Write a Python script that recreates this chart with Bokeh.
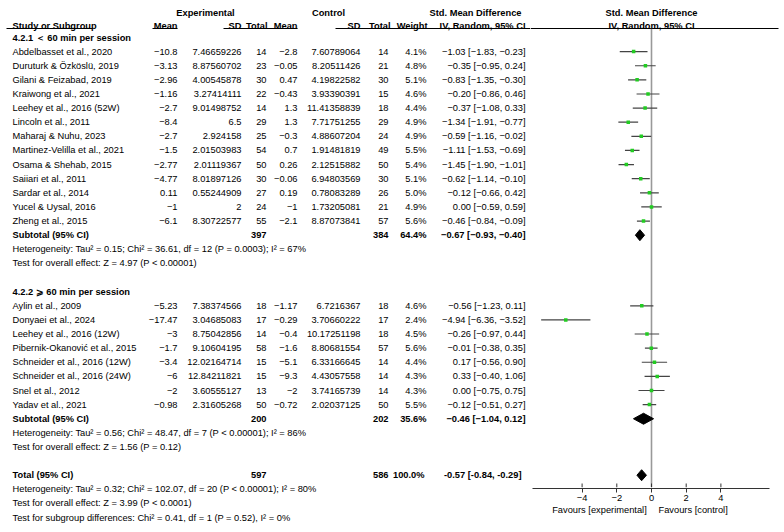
from bokeh.plotting import figure
from bokeh.models import Range1d, LinearAxis, FixedTicker, ColumnDataSource
from bokeh.layouts import row, column
from bokeh.embed import file_html
from bokeh.resources import INLINE
from bokeh.core.properties import value

# ---------------- data ----------------
heading1 = "4.2.1 ＜ 60 min per session"
studies1 = ["Abdelbasset et al., 2020", "Duruturk & Özköslü, 2019", "Gilani & Feizabad, 2019",
            "Kraiwong et al., 2021", "Leehey et al., 2016 (52W)", "Lincoln et al., 2011",
            "Maharaj & Nuhu, 2023", "Martinez-Velilla et al., 2021", "Osama & Shehab, 2015",
            "Saiiari et al., 2011", "Sardar et al., 2014", "Yucel & Uysal, 2016", "Zheng et al., 2015"]
exp_mean1 = [-10.8, -3.13, -2.96, -1.16, -2.7, -8.4, -2.7, -1.5, -2.77, -4.77, 0.11, -1, -6.1]
exp_sd1 = [7.46659226, 8.87560702, 4.00545878, 3.27414111, 9.01498752, 6.5, 2.924158,
           2.01503983, 2.01119367, 8.01897126, 0.55244909, 2, 8.30722577]
exp_n1 = [14, 23, 30, 22, 14, 29, 25, 54, 50, 30, 27, 24, 55]
ctl_mean1 = [-2.8, -0.05, 0.47, -0.43, 1.3, 1.3, -0.3, 0.7, 0.26, -0.06, 0.19, -1, -2.1]
ctl_sd1 = [7.60789064, 8.20511426, 4.19822582, 3.93390391, 11.41358839, 7.71751255, 4.88607204,
           1.91481819, 2.12515882, 6.94803569, 0.78083289, 1.73205081, 8.87073841]
ctl_n1 = [14, 21, 30, 15, 18, 29, 24, 49, 50, 30, 26, 21, 57]
weight1 = [4.1, 4.8, 5.1, 4.6, 4.4, 4.9, 4.9, 5.5, 5.4, 5.1, 5.0, 4.9, 5.6]
smd1 = [-1.03, -0.35, -0.83, -0.20, -0.37, -1.34, -0.59, -1.11, -1.45, -0.62, -0.12, 0.00, -0.46]
lo1 = [-1.83, -0.95, -1.35, -0.86, -1.08, -1.91, -1.16, -1.53, -1.90, -1.14, -0.66, -0.59, -0.84]
hi1 = [-0.23, 0.24, -0.30, 0.46, 0.33, -0.77, -0.02, -0.69, -1.01, -0.10, 0.42, 0.59, -0.09]

heading2 = "4.2.2 ⩾ 60 min per session"
studies2 = ["Aylin et al., 2009", "Donyaei et al., 2024", "Leehey et al., 2016 (12W)",
            "Pibernik-Okanović et al., 2015", "Schneider et al., 2016 (12W)",
            "Schneider et al., 2016 (24W)", "Snel et al., 2012", "Yadav et al., 2021"]
exp_mean2 = [-5.23, -17.47, -3, -1.7, -3.4, -6, -2, -0.98]
exp_sd2 = [7.38374566, 3.04685083, 8.75042856, 9.10604195, 12.02164714, 12.84211821, 3.60555127, 2.31605268]
exp_n2 = [18, 17, 14, 58, 15, 15, 13, 50]
ctl_mean2 = [-1.17, -0.29, -0.4, -1.6, -5.1, -9.3, -2, -0.72]
ctl_sd2 = [6.7216367, 3.70660222, 10.17251198, 8.80681554, 6.33166645, 4.43057558, 3.74165739, 2.02037125]
ctl_n2 = [18, 17, 18, 57, 14, 14, 14, 50]
weight2 = [4.6, 2.4, 4.5, 5.6, 4.4, 4.3, 4.3, 5.5]
smd2 = [-0.56, -4.94, -0.26, -0.01, 0.17, 0.33, 0.00, -0.12]
lo2 = [-1.23, -6.36, -0.97, -0.38, -0.56, -0.40, -0.75, -0.51]
hi2 = [0.11, -3.52, 0.44, 0.35, 0.90, 1.06, 0.75, 0.27]

sub_n_exp = [397, 200]
sub_n_ctl = [384, 202]
sub_weight = [64.4, 35.6]
sub_smd = [-0.67, -0.46]
sub_lo = [-0.93, -1.04]
sub_hi = [-0.40, 0.12]
sub_het = ["Heterogeneity: Tau² = 0.15; Chi² = 36.61, df = 12 (P = 0.0003); I² = 67%",
           "Heterogeneity: Tau² = 0.56; Chi² = 48.47, df = 7 (P < 0.00001); I² = 86%"]
sub_test = ["Test for overall effect: Z = 4.97 (P < 0.00001)",
            "Test for overall effect: Z = 1.56 (P = 0.12)"]

tot_n_exp = 597
tot_n_ctl = 586
tot_weight = 100.0
tot_smd = -0.57
tot_lo = -0.84
tot_hi = -0.29
tot_notes = ["Heterogeneity: Tau² = 0.32; Chi² = 102.07, df = 20 (P < 0.00001); I² = 80%",
             "Test for overall effect: Z = 3.99 (P < 0.0001)",
             "Test for subgroup differences: Chi² = 0.41, df = 1 (P = 0.52), I² = 0%"]

axis_ticks = [-4, -2, 0, 2, 4]
fav_ticks = [-3, 2.4]
fav_labels = ["Favours [experimental]", "Favours [control]"]

# ---------------- layout constants ----------------
FONT = "Liberation Sans"
FS = "9.3px"
W, H = 784, 532
SPLIT = 530          # pixel where the forest panel starts
ZERO_PX = 651.0      # pixel of SMD = 0
PX_PER = 17.35       # pixels per SMD unit
AXIS_Y = 487
ROW0, ROWSTEP = 37.0, 14.12


def rowy(i):
    return ROW0 + ROWSTEP * i


def smd_at(px):
    return (px - ZERO_PX) / PX_PER


def num(v):
    return str(v).replace("-", "−")


def ci(e, l, h, minus="−"):
    return f"{e:.2f} [{l:.2f}, {h:.2f}]".replace("-", minus)


# ---------------- build rows ----------------
texts = {}   # key (align, bold) -> dict lists


def put(x, y, t, align="left", bold=False):
    d = texts.setdefault((align, bold), {"x": [], "y": [], "text": []})
    d["x"].append(x)
    d["y"].append(y)
    d["text"].append(t)


COL_NAME = 12
COL_EM, COL_ESD, COL_EN = 177, 241, 266
COL_CM, COL_CSD, COL_CN = 297, 360, 388
COL_W, COL_CI = 426, 525

forest_rows = []   # (y, smd, lo, hi)
diamonds = []      # (y, smd, lo, hi)

groups = [
    (heading1, studies1, exp_mean1, exp_sd1, exp_n1, ctl_mean1, ctl_sd1, ctl_n1, weight1, smd1, lo1, hi1),
    (heading2, studies2, exp_mean2, exp_sd2, exp_n2, ctl_mean2, ctl_sd2, ctl_n2, weight2, smd2, lo2, hi2),
]
i = 0
for g, (head, st, em, esd, en, cm, csd, cn, w, e, l, h) in enumerate(groups):
    put(COL_NAME, rowy(i), head, bold=True)
    i += 1
    for k in range(len(st)):
        y = rowy(i)
        put(COL_NAME, y, st[k])
        put(COL_EM, y, num(em[k]), "right")
        put(COL_ESD, y, num(esd[k]), "right")
        put(COL_EN, y, str(en[k]), "right")
        put(COL_CM, y, num(cm[k]), "right")
        put(COL_CSD, y, num(csd[k]), "right")
        put(COL_CN, y, str(cn[k]), "right")
        put(COL_W, y, f"{w[k]:.1f}%", "right")
        put(COL_CI, y, ci(e[k], l[k], h[k]), "right")
        forest_rows.append((y, e[k], l[k], h[k]))
        i += 1
    y = rowy(i)
    put(COL_NAME, y, "Subtotal (95% CI)", bold=True)
    put(COL_EN, y, str(sub_n_exp[g]), "right", True)
    put(COL_CN, y, str(sub_n_ctl[g]), "right", True)
    put(COL_W, y, f"{sub_weight[g]:.1f}%", "right", True)
    put(COL_CI, y, ci(sub_smd[g], sub_lo[g], sub_hi[g]), "right", True)
    diamonds.append((y, sub_smd[g], sub_lo[g], sub_hi[g]))
    i += 1
    put(COL_NAME, rowy(i), sub_het[g])
    i += 1
    put(COL_NAME, rowy(i), sub_test[g])
    i += 2

y = rowy(i)
put(COL_NAME, y, "Total (95% CI)", bold=True)
put(COL_EN, y, str(tot_n_exp), "right", True)
put(COL_CN, y, str(tot_n_ctl), "right", True)
put(COL_W - 2, y, f"{tot_weight:.1f}%", "right", True)
put(COL_CI - 4, y, ci(tot_smd, tot_lo, tot_hi, "-"), "right", True)
diamonds.append((y, tot_smd, tot_lo, tot_hi))
i += 1
for note in tot_notes:
    put(COL_NAME, rowy(i), note)
    i += 1

# headers
HY1, HY2, ULY = 12, 25, 28
put(205, HY1, "Experimental", "center", True)
put(328, HY1, "Control", "center", True)
put(475, HY1, "Std. Mean Difference", "center", True)
put(COL_NAME, HY2, "Study or Subgroup", "left", True)
for x, t in [(COL_EM, "Mean"), (241, "SD"), (267, "Total"), (COL_CM, "Mean"), (COL_CSD, "SD"),
             (390, "Total"), (427, "Weight"), (COL_CI, "IV, Random, 95% CI")]:
    put(x, HY2, t, "right", True)

# ---------------- left (table) figure ----------------
left = figure(width=SPLIT, height=H, x_range=Range1d(0, SPLIT), y_range=Range1d(H, 0),
              x_axis_type=None, y_axis_type=None, toolbar_location=None,
              output_backend="svg", min_border=0, outline_line_color=None)
for (align, bold), d in texts.items():
    left.text(x="x", y="y", text="text", source=ColumnDataSource(d),
              text_align=align, text_baseline="middle",
              text_font=value(FONT), text_font_size=value(FS),
              text_font_style="bold" if bold else "normal", text_color="black")
ul = [(6, 92), (152, 177), (223, 297), (335, SPLIT)]
left.segment(x0=[a for a, b in ul], y0=[ULY] * len(ul), x1=[b for a, b in ul], y1=[ULY] * len(ul),
             line_color="black", line_width=1)

# ---------------- right (forest) figure ----------------
xr = Range1d(smd_at(SPLIT), smd_at(W))
right = figure(width=W - SPLIT, height=AXIS_Y, x_range=xr, y_range=Range1d(AXIS_Y, 0),
               x_axis_type=None, y_axis_type=None, toolbar_location=None,
               output_backend="svg", min_border=0, outline_line_color=None)

right.segment(x0=[smd_at(SPLIT)], y0=[ULY], x1=[smd_at(778)], y1=[ULY], line_color="black", line_width=1)
right.segment(x0=[0], y0=[ULY], x1=[0], y1=[AXIS_Y], line_color="#999999", line_width=1.6)

fr = ColumnDataSource(dict(y=[r[0] for r in forest_rows], e=[r[1] for r in forest_rows],
                           lo=[r[2] for r in forest_rows], hi=[r[3] for r in forest_rows]))
right.segment(x0="lo", y0="y", x1="hi", y1="y", source=fr, line_color="#444444", line_width=1.2)
right.scatter(x="e", y="y", source=fr, marker="square", size=3.5, fill_color="#22cc22",
              line_color=None)

right.patches(xs=[[lo, e, hi, e] for (y, e, lo, hi) in diamonds],
              ys=[[y, y - 5.5, y, y + 5.5] for (y, e, lo, hi) in diamonds],
              fill_color="black", line_color="black", line_width=1)

right.text(x=[0, 0], y=[HY1, HY2], text=["Std. Mean Difference", "IV, Random, 95% CI"],
           text_align="center", text_baseline="middle", text_font=value(FONT),
           text_font_size=value(FS), text_font_style="bold", text_color="black")

# ---------------- axis strip under the forest ----------------
bottom = figure(width=W - SPLIT, height=H - AXIS_Y, x_range=xr, y_range=Range1d(0, 1),
                x_axis_type=None, y_axis_type=None, toolbar_location=None,
                output_backend="svg", min_border_left=0, min_border_right=0,
                min_border_top=0, min_border_bottom=H - AXIS_Y - 1, outline_line_color=None)

xaxis = LinearAxis(ticker=FixedTicker(ticks=axis_ticks), bounds=(smd_at(532), smd_at(769)),
                   major_label_overrides={t: num(t) for t in axis_ticks},
                   minor_tick_line_color=None, major_tick_in=0, major_tick_out=4,
                   axis_line_color="#333333", major_tick_line_color="#333333",
                   major_label_text_font=FONT, major_label_text_font_size=FS,
                   major_label_text_color="black", major_label_standoff=2)
bottom.add_layout(xaxis, "below")

favaxis = LinearAxis(ticker=FixedTicker(ticks=fav_ticks),
                     major_label_overrides=dict(zip(fav_ticks, fav_labels)),
                     axis_line_color=None, major_tick_line_color=None, minor_tick_line_color=None,
                     major_tick_in=0, major_tick_out=0, major_label_standoff=1,
                     major_label_text_font=FONT, major_label_text_font_size=FS,
                     major_label_text_color="black")
bottom.add_layout(favaxis, "below")

# tick marks also poke above the axis line
bottom.segment(x0=axis_ticks, y0=[0.0] * len(axis_ticks), x1=axis_ticks, y1=[1.0] * len(axis_ticks),
               line_color="#333333", line_width=1)
right.segment(x0=axis_ticks, y0=[AXIS_Y - 4] * len(axis_ticks), x1=axis_ticks,
              y1=[AXIS_Y] * len(axis_ticks), line_color="#333333", line_width=1)

layout = row(left, column(right, bottom))
open("out.html", "w").write(file_html(layout, INLINE))
